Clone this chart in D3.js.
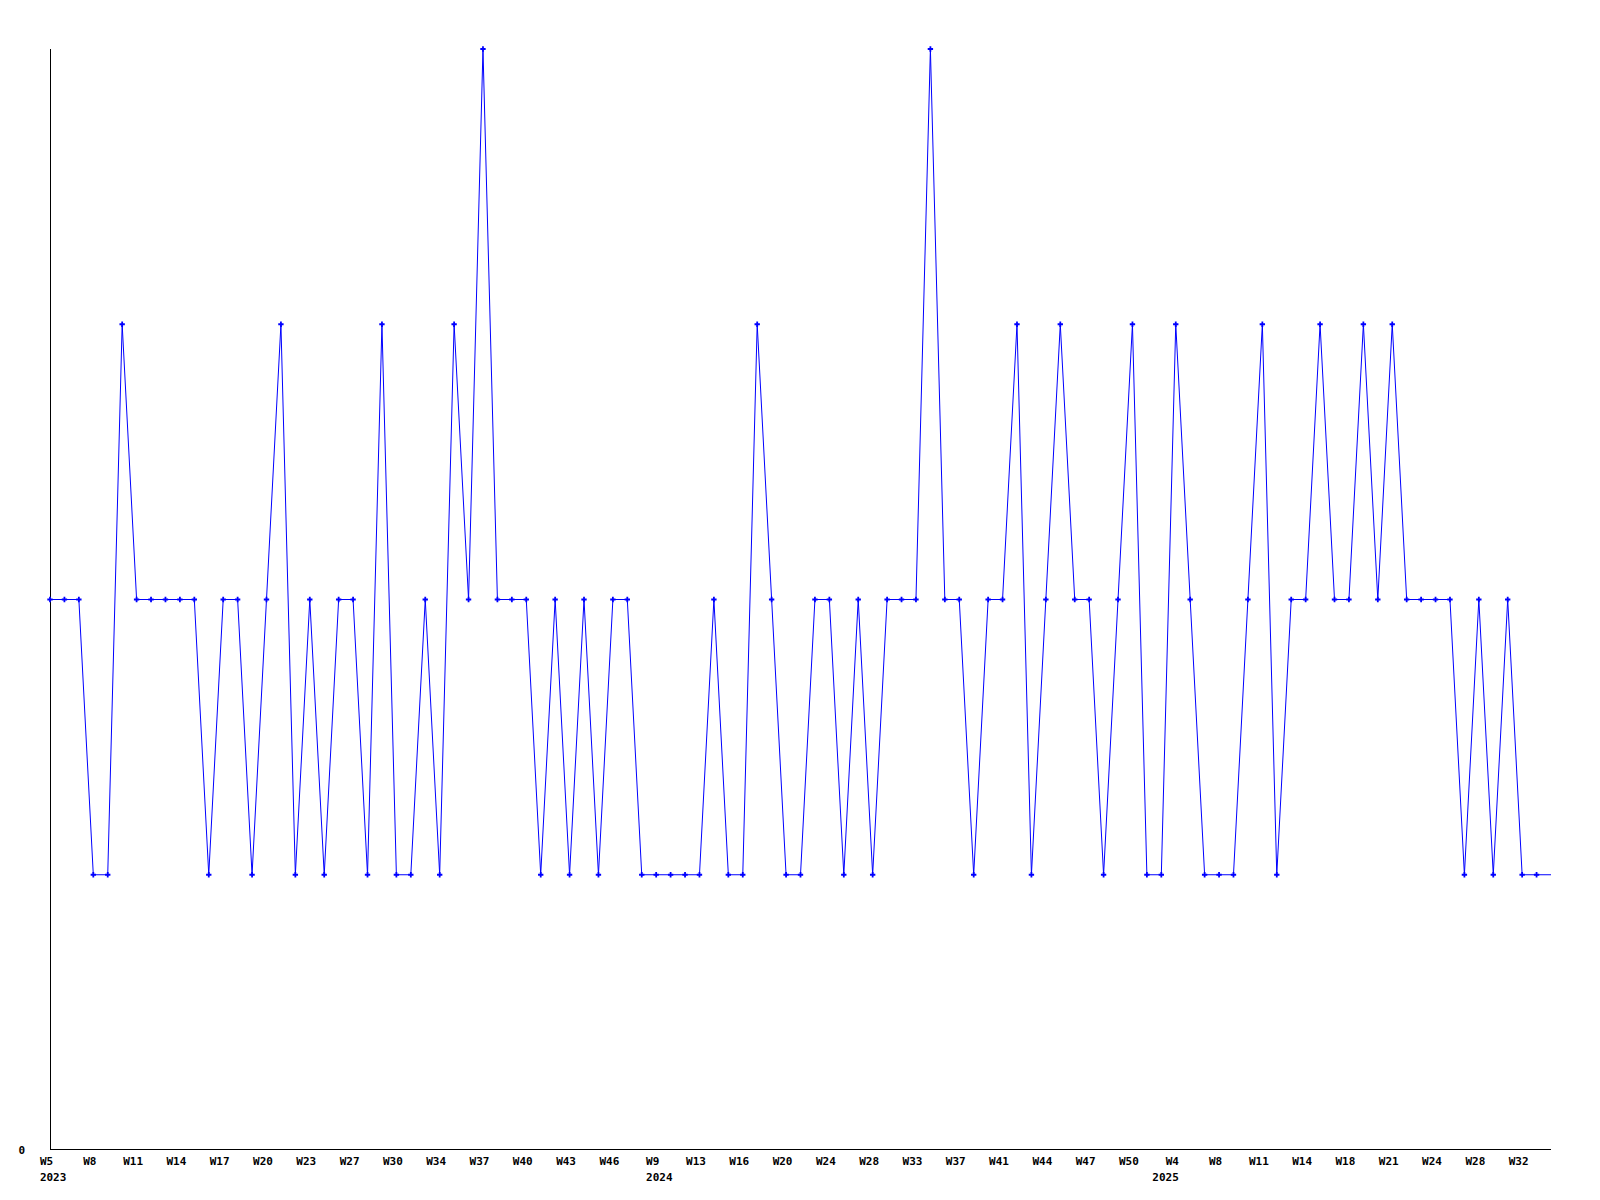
<!DOCTYPE html>
<html><head><meta charset="utf-8">
<script src="https://cdn.jsdelivr.net/npm/d3@7"></script>
<style>html,body{margin:0;padding:0;background:#fff;}</style>
</head><body>
<svg id="chart" width="1600" height="1200"></svg>
<script>
// weekly counts (one value per plotted week, left to right)
const values = [
  2,2,2,1,1,3,2,2,2,2,
  2,1,2,2,1,2,3,1,2,1,
  2,2,1,3,1,1,2,1,3,2,
  4,2,2,2,1,2,1,2,1,2,
  2,1,1,1,1,1,2,1,1,3,
  2,1,1,2,2,1,2,1,2,2,
  2,4,2,2,1,2,2,3,1,2,
  3,2,2,1,2,3,1,1,3,2,
  1,1,1,2,3,1,2,2,3,2,
  2,3,2,3,2,2,2,2,1,2,
  1,2,1,1,1
];
// x tick labels, one every 3rd week
const weekLabels = ["W5","W8","W11","W14","W17","W20","W23","W27","W30","W34","W37","W40","W43","W46",
  "W9","W13","W16","W20","W24","W28","W33","W37","W41","W44","W47","W50",
  "W4","W8","W11","W14","W18","W21","W24","W28","W32"];
// year labels under the given week labels
const yearTickIdx = [0, 14, 26];
const yearLabels = ["2023","2024","2025"];
const yTickLabels = ["0"];
const tickEvery = 3;

const svg = d3.select("#chart");
const plotL = 50, plotR = 1551, plotT = 49, plotB = 1150;
const x = d3.scaleLinear().domain([0, values.length - 1]).range([plotL, plotR]);
const y = d3.scaleLinear().domain([0, 4]).range([plotB, plotT]);
const font = "'DejaVu Sans Mono', monospace";
const fs = "11px";
const labShift = -3.5;

// axes
svg.append("line").attr("x1", plotL + 0.5).attr("x2", plotL + 0.5).attr("y1", plotT).attr("y2", plotB)
  .attr("stroke", "#000").attr("stroke-width", 1);
svg.append("line").attr("x1", plotL).attr("x2", plotR).attr("y1", plotB - 0.5).attr("y2", plotB - 0.5)
  .attr("stroke", "#000").attr("stroke-width", 1);

svg.selectAll("text.ylab").data(yTickLabels).enter().append("text")
  .attr("class", "ylab")
  .attr("x", 25).attr("y", d => y(+d)).attr("dy", "0.35em")
  .attr("text-anchor", "end")
  .style("font-family", font).style("font-size", fs).style("font-weight", "bold")
  .text(d => d);

// x labels
const xl = svg.append("g");
weekLabels.forEach((lab, i) => {
  const px = x(i * tickEvery) + labShift;
  xl.append("text").attr("x", px).attr("y", 1165)
    .attr("text-anchor", "middle")
    .style("font-family", font).style("font-size", fs).style("font-weight", "bold")
    .text(lab);
});
yearTickIdx.forEach((ti, k) => {
  const px = x(ti * tickEvery) + labShift;
  const wlw = weekLabels[ti].length * 6.62;
  const last = k === yearTickIdx.length - 1;
  xl.append("text")
    .attr("x", last ? px + wlw / 2 : px - wlw / 2)
    .attr("y", 1181)
    .attr("text-anchor", last ? "end" : "start")
    .style("font-family", font).style("font-size", fs).style("font-weight", "bold")
    .text(yearLabels[k]);
});

// line
const line = d3.line().x((d, i) => x(i)).y(d => y(d));
svg.append("path").datum(values).attr("d", line)
  .attr("fill", "none").attr("stroke", "#0000ff").attr("stroke-width", 1);

// markers (the last week sits on the plot edge, no marker)
svg.selectAll("path.mk").data(values.slice(0, values.length - 1)).enter().append("path")
  .attr("class", "mk")
  .attr("transform", (d, i) => `translate(${x(i)},${y(d)})`)
  .attr("d", d3.symbol().type(d3.symbolCross).size(16))
  .attr("fill", "#0000ff");
</script>
</body></html>
